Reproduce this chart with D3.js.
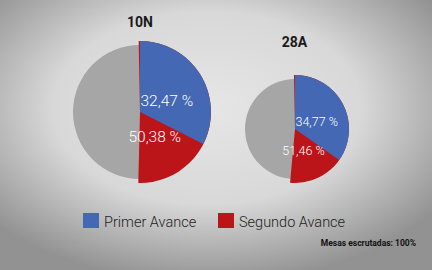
<!DOCTYPE html>
<html>
<head>
<meta charset="utf-8">
<script src="https://cdn.jsdelivr.net/npm/d3@7"></script>
<style>
  html, body { margin: 0; padding: 0; }
  body { width: 432px; height: 270px; overflow: hidden; font-family: Roboto, "Noto Sans", sans-serif; }
</style>
</head>
<body>
<div id="result"></div>
<script>
/* Data */
var polls = ["10N", "28A"];
var primerAvance = [32.47, 34.77];
var segundoAvance = [50.38, 51.46];
var seriesNames = ["Primer Avance", "Segundo Avance"];
var seriesColors = ["#4468b4", "#bb1419"];
var footNote = "Mesas escrutadas: 100%";

var width = 432, height = 270;

var svg = d3.select("#result").append("svg")
    .attr("width", width)
    .attr("height", height);

// background vignette
var defs = svg.append("defs");
var grad = defs.append("radialGradient")
    .attr("id", "bg")
    .attr("cx", "48%").attr("cy", "40%").attr("r", "65%");
grad.append("stop").attr("offset", "0%").attr("stop-color", "#e6e6e6");
grad.append("stop").attr("offset", "55%").attr("stop-color", "#d8d8d8");
grad.append("stop").attr("offset", "100%").attr("stop-color", "#929292");
svg.append("rect").attr("width", width).attr("height", height).attr("fill", "url(#bg)");

// layout of each pie
var pies = [
    {cx: 140, cy: 112, r: 71, greyR: 67, titleY: 27, fontSize: 15.5},
    {cx: 295, cy: 129, r: 54, greyR: 50, titleY: 47, fontSize: 12.5}
];

var pct = d3.scaleLinear().domain([0, 100]).range([0, 2 * Math.PI]);

polls.forEach(function (name, i) {
    var p = pies[i];
    var g = svg.append("g").attr("transform", "translate(" + p.cx + "," + p.cy + ")");

    // grey half behind
    g.append("path")
        .attr("d", d3.arc()({innerRadius: 0, outerRadius: p.greyR, startAngle: Math.PI, endAngle: 2 * Math.PI}))
        .attr("fill", "#a6a6a6");

    var pieArc = d3.arc().innerRadius(0).outerRadius(p.r);
    var redD = {startAngle: pct(-0.3), endAngle: pct(segundoAvance[i])};
    g.append("path")
        .attr("d", pieArc(redD))
        .attr("fill", seriesColors[1]);

    var blueD = {startAngle: 0, endAngle: pct(primerAvance[i])};
    g.append("path")
        .attr("d", pieArc(blueD))
        .attr("fill", seriesColors[0]);

    // labels
    var fmt = function (v) { return d3.format(".2f")(v).replace(".", ",") + " %"; };
    var lblArc = d3.arc().innerRadius(0).outerRadius(p.r * 0.92);
    var rc = lblArc.centroid({startAngle: pct(primerAvance[i]), endAngle: pct(segundoAvance[i])});
    g.append("text")
        .attr("x", 0.5)
        .attr("y", i === 0 ? -6 : -3.5)
        .attr("fill", "#fff")
        .style("font-size", p.fontSize + "px")
        .style("font-weight", 300)
        .text(fmt(primerAvance[i]));
    g.append("text")
        .attr("x", rc[0] - 2)
        .attr("y", i === 0 ? 30 : 25.5)
        .attr("text-anchor", "middle")
        .attr("fill", "#fff")
        .style("font-size", p.fontSize + "px")
        .style("font-weight", 300)
        .text(fmt(segundoAvance[i]));

    // title
    svg.append("text")
        .attr("x", p.cx + (i === 0 ? 0 : -0.5))
        .attr("y", p.titleY)
        .attr("text-anchor", "middle")
        .attr("fill", "#1a1a1a")
        .style("font-size", "14px")
        .style("font-weight", "bold")
        .text(name);
});

// legend
var legendX = [83, 218];
seriesNames.forEach(function (s, i) {
    svg.append("rect")
        .attr("x", legendX[i]).attr("y", 213)
        .attr("width", 16).attr("height", 15)
        .attr("fill", seriesColors[i]);
    svg.append("text")
        .attr("x", legendX[i] + 21)
        .attr("y", 227)
        .attr("fill", "#222")
        .style("font-size", "14.5px")
        .style("font-weight", 300)
        .text(s);
});

svg.append("text")
    .attr("x", 416).attr("y", 246)
    .attr("text-anchor", "end")
    .attr("fill", "#111")
    .style("font-size", "8.5px")
    .style("font-weight", "bold")
    .text(footNote);
</script>
</body>
</html>
